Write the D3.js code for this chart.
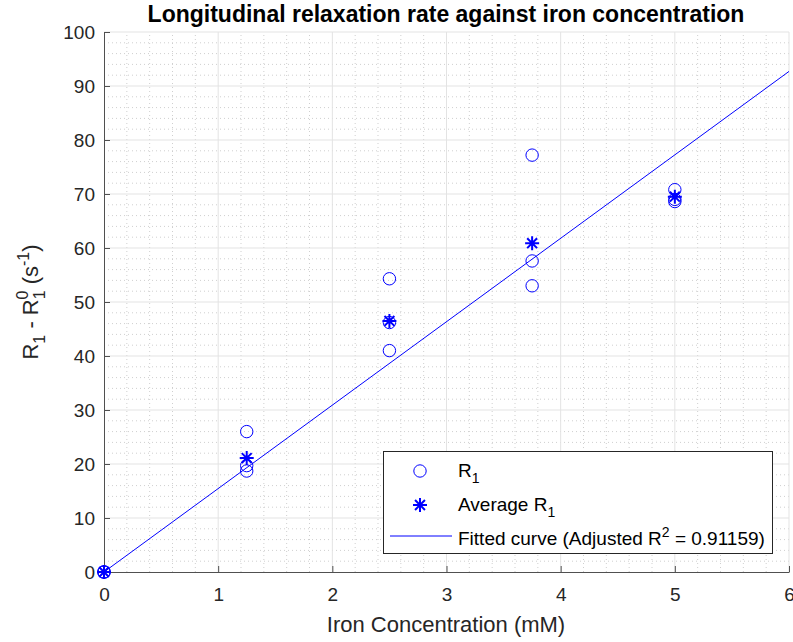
<!DOCTYPE html>
<html>
<head>
<meta charset="utf-8">
<script src="https://cdn.jsdelivr.net/npm/d3@7"></script>
<style>
  html, body { margin: 0; padding: 0; background: #fff; }
  svg { display: block; font-family: "Liberation Sans", Arial, Helvetica, sans-serif; }
</style>
</head>
<body>
<svg id="chart" width="793" height="642"></svg>
<script>
// Iron concentrations (mM)
const concentrations = [0, 1.25, 2.5, 3.75, 5];
// Individual R1 - R1^0 measurements (s^-1), three replicates per concentration
const rep1 = [0, 26.0, 54.3, 77.2, 70.8];
const rep2 = [0, 19.7, 46.2, 57.6, 69.0];
const rep3 = [0, 18.7, 41.0, 53.0, 68.6];
// Average R1 per concentration
const averages = [0, 21.1, 46.5, 60.9, 69.5];
// Linear fit through origin: R1 = slope * [Fe]
const fitSlope = 15.45;
const fitRange = [0, 6];
const adjustedR2 = "0.91159";
// Axis ticks
const xTicks = [0, 1, 2, 3, 4, 5, 6];
const yTicks = [0, 10, 20, 30, 40, 50, 60, 70, 80, 90, 100];

const svg = d3.select("#chart");
const margin = { left: 104, right: 4, top: 32, bottom: 70 };
const W = 793, H = 642;
const x = d3.scaleLinear().domain([0, 6]).range([margin.left, W - margin.right]);
const y = d3.scaleLinear().domain([0, 100]).range([H - margin.bottom, margin.top]);
const blue = "#0000ff";

// Grid: minor dotted, major solid
const g = svg.append("g");
const xMinor = d3.range(0, 6.0001, 0.2).filter(v => Math.abs(v - Math.round(v)) > 1e-6);
const yMinor = d3.range(0, 100.0001, 2).filter(v => v % 10 !== 0);
g.selectAll(".xminor").data(xMinor).join("line")
  .attr("x1", d => x(d)).attr("x2", d => x(d)).attr("y1", y(0)).attr("y2", y(100))
  .attr("stroke", "#cfcfcf").attr("stroke-width", 1).attr("stroke-dasharray", "1,3");
g.selectAll(".yminor").data(yMinor).join("line")
  .attr("x1", x(0)).attr("x2", x(6)).attr("y1", d => y(d)).attr("y2", d => y(d))
  .attr("stroke", "#cfcfcf").attr("stroke-width", 1).attr("stroke-dasharray", "1,3");
g.selectAll(".xmajor").data(xTicks.slice(1)).join("line")
  .attr("x1", d => x(d)).attr("x2", d => x(d)).attr("y1", y(0)).attr("y2", y(100))
  .attr("stroke", "#e3e3e3").attr("stroke-width", 1);
g.selectAll(".ymajor").data(yTicks.slice(1)).join("line")
  .attr("x1", x(0)).attr("x2", x(6)).attr("y1", d => y(d)).attr("y2", d => y(d))
  .attr("stroke", "#e3e3e3").attr("stroke-width", 1);

// Axes with inward ticks
const axisColor = "#505050";
const xAxis = svg.append("g").attr("transform", `translate(0,${y(0)})`)
  .call(d3.axisBottom(x).tickValues(xTicks).tickFormat(d3.format("d")).tickSizeInner(-6).tickSizeOuter(0).tickPadding(16));
const yAxis = svg.append("g").attr("transform", `translate(${x(0)},0)`)
  .call(d3.axisLeft(y).tickValues(yTicks).tickFormat(d3.format("d")).tickSizeInner(-6).tickSizeOuter(0).tickPadding(9));
[xAxis, yAxis].forEach(a => {
  a.select(".domain").attr("stroke", axisColor).attr("stroke-width", 1);
  a.selectAll(".tick line").attr("stroke", axisColor);
  a.selectAll(".tick text").attr("fill", "#262626").attr("font-size", 19)
    .attr("font-family", "Liberation Sans, Arial, sans-serif");
});

// Fitted line
svg.append("line")
  .attr("x1", x(fitRange[0])).attr("y1", y(fitSlope * fitRange[0]))
  .attr("x2", x(fitRange[1])).attr("y2", y(fitSlope * fitRange[1]))
  .attr("stroke", blue).attr("stroke-width", 1);

// Replicate measurements (circles)
const points = [];
[rep1, rep2, rep3].forEach(rep => rep.forEach((v, i) => points.push({ c: concentrations[i], v })));
svg.append("g").selectAll("circle").data(points).join("circle")
  .attr("cx", d => x(d.c)).attr("cy", d => y(d.v)).attr("r", 6.2)
  .attr("fill", "none").attr("stroke", blue).attr("stroke-width", 1);

// Average markers (asterisks)
const star = d3.symbol().type({
  draw(ctx, size) {
    const r = Math.sqrt(size) / 2;
    const d = r * Math.SQRT1_2;
    ctx.moveTo(-r, 0); ctx.lineTo(r, 0);
    ctx.moveTo(0, -r); ctx.lineTo(0, r);
    ctx.moveTo(-d, -d); ctx.lineTo(d, d);
    ctx.moveTo(-d, d); ctx.lineTo(d, -d);
  }
}).size(196);
svg.append("g").selectAll("path").data(concentrations.map((c, i) => ({ c, v: averages[i] }))).join("path")
  .attr("transform", d => `translate(${x(d.c)},${y(d.v)})`)
  .attr("d", star).attr("fill", "none").attr("stroke", blue).attr("stroke-width", 2);

// Title
svg.append("text").attr("x", 446).attr("y", 22).attr("text-anchor", "middle")
  .attr("font-weight", "bold").attr("font-size", 23).attr("fill", "#000")
  .text("Longitudinal relaxation rate against iron concentration");

// X label
svg.append("text").attr("x", 446).attr("y", 632).attr("text-anchor", "middle")
  .attr("font-size", 22).attr("fill", "#262626").text("Iron Concentration (mM)");

// Y label with sub/superscripts
const yl = svg.append("text").attr("transform", `translate(37.5,302) rotate(-90)`)
  .attr("text-anchor", "middle").attr("font-size", 22).attr("fill", "#262626");
yl.append("tspan").text("R");
yl.append("tspan").attr("font-size", 16).attr("dy", 7).text("1");
yl.append("tspan").attr("dy", -7).text(" - R");
yl.append("tspan").attr("font-size", 16).attr("dy", 7).text("1");
yl.append("tspan").attr("font-size", 16).attr("dx", -9).attr("dy", -17).text("0");
yl.append("tspan").attr("dy", 10).text(" (s");
yl.append("tspan").attr("font-size", 16).attr("dy", -9).text("-1");
yl.append("tspan").attr("dy", 9).text(")");

// Legend
const lg = svg.append("g");
lg.append("rect").attr("x", 383.5).attr("y", 451.5).attr("width", 389).attr("height", 102)
  .attr("fill", "#fff").attr("stroke", "#262626").attr("stroke-width", 1);
lg.append("circle").attr("cx", 420).attr("cy", 471).attr("r", 6.2)
  .attr("fill", "none").attr("stroke", blue);
lg.append("path").attr("transform", "translate(420,505)").attr("d", star)
  .attr("fill", "none").attr("stroke", blue).attr("stroke-width", 2);
lg.append("line").attr("x1", 390).attr("x2", 452).attr("y1", 536).attr("y2", 536)
  .attr("stroke", blue).attr("stroke-width", 1);
const lt = (yy) => lg.append("text").attr("x", 458).attr("y", yy).attr("font-size", 19).attr("fill", "#000");
const t1 = lt(477); t1.append("tspan").text("R"); t1.append("tspan").attr("font-size", 14).attr("dy", 6).text("1");
const t2 = lt(511); t2.append("tspan").text("Average R"); t2.append("tspan").attr("font-size", 14).attr("dy", 6).text("1");
const t3 = lt(545); t3.append("tspan").text("Fitted curve (Adjusted R");
t3.append("tspan").attr("font-size", 14).attr("dy", -8).text("2");
t3.append("tspan").attr("dy", 8).text(" = " + adjustedR2 + ")");
</script>
</body>
</html>
